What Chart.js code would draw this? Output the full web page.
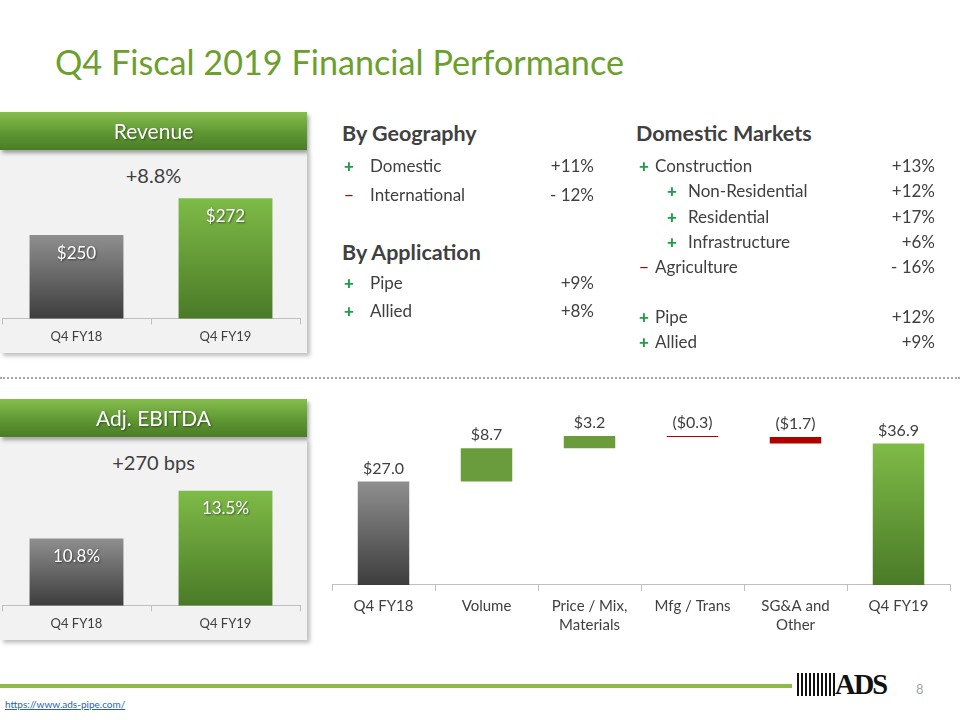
<!DOCTYPE html>
<html>
<head>
<meta charset="utf-8">
<script src="https://cdn.jsdelivr.net/npm/chart.js@4.4.1/dist/chart.umd.min.js"></script>
<style>
body{margin:0;width:960px;height:720px;position:relative;background:#fff;font-family:Lato,"Open Sans",sans-serif;color:#404040;overflow:hidden}
h1{position:absolute;left:55px;top:41px;margin:0;font-weight:400;font-size:34.2px;color:#6c9f2c;white-space:nowrap}
.hdr{position:absolute;left:0;width:307px;height:38px;line-height:38px;background:linear-gradient(#86be4e,#5f9833 55%,#4a7c26);color:#fff;font-size:21px;text-align:center;box-shadow:2px 3px 4px rgba(0,0,0,.35);text-shadow:1px 1px 2px rgba(0,0,0,.45);z-index:2}
.panel{position:absolute;left:0;width:307px;background:#f2f2f2;box-shadow:3px 3px 4px rgba(0,0,0,.25)}
.big{position:absolute;left:0;width:307px;text-align:center;font-size:20px;color:#404040}
canvas{position:absolute}
.h2{position:absolute;font-weight:700;font-size:21.5px;color:#404040;white-space:nowrap}
.row{position:absolute;font-size:17px;height:20px;line-height:20px;white-space:nowrap}
.row .v{position:absolute;text-align:right}
.plus{color:#1f9f48;font-weight:900}
.minus{color:#c00000}
#sep{position:absolute;left:0;top:377px;width:960px;border-top:2px dotted #a6a6a6}
#foot{position:absolute;left:0;top:684px;width:792px;height:4px;background:#8cbb4a}
#url{position:absolute;left:5px;top:698px;font-size:10px;color:#2a5fb5;text-decoration:underline}
#page{position:absolute;left:916px;top:681px;font-size:13px;color:#a6a6a6}
#logo{position:absolute;left:797px;top:670px;width:88px;height:28px}
#logo .st{position:absolute;left:0;top:3px;width:40px;height:23px;background:repeating-linear-gradient(90deg,#111 0 2px,#fff 2px 4px)}
#logo .tx{position:absolute;left:38px;top:-3px;font-family:"Liberation Serif",serif;font-weight:700;font-size:30px;letter-spacing:-2px;color:#111;transform:scaleX(0.95);transform-origin:left}
</style>
</head>
<body>
<h1>Q4 Fiscal 2019 Financial Performance</h1>

<div class="panel" style="top:150px;height:203px"></div>
<div class="hdr" style="top:112px">Revenue</div>
<div class="big" style="top:163px">+8.8%</div>
<canvas id="rev" width="307" height="200" style="left:0;top:150px"></canvas>

<div class="panel" style="top:438px;height:202px"></div>
<div class="hdr" style="top:399px">Adj. EBITDA</div>
<div class="big" style="top:450px">+270 bps</div>
<canvas id="ebitda" width="307" height="200" style="left:0;top:438px"></canvas>

<div id="tables"></div>
<div id="sep"></div>

<canvas id="bridge" width="630" height="250" style="left:330px;top:395px"></canvas>

<div id="foot"></div>
<div id="logo"><div class="st"></div><div class="tx">ADS</div></div>
<div id="page">8</div>
<div id="url">https://www.ads-pipe.com/</div>

<script>
// chart values
const revLabels = ['Q4 FY18', 'Q4 FY19'];
const revValues = [250, 272];
const ebitdaLabels = ['Q4 FY18', 'Q4 FY19'];
const ebitdaValues = [10.8, 13.5];
const bridgeLabels = ['Q4 FY18', 'Volume', ['Price / Mix,', 'Materials'], 'Mfg / Trans', ['SG&A and', 'Other'], 'Q4 FY19'];
const bridgeStart = 27.0;
const bridgeSteps = [8.7, 3.2, -0.3, -1.7];
const bridgeEnd = 36.9;

// growth tables
const geoNames = ['Domestic', 'International'];
const geoValues = ['+11%', '- 12%'];
const appNames = ['Pipe', 'Allied'];
const appValues = ['+9%', '+8%'];
const marketNames = ['Construction', 'Non-Residential', 'Residential', 'Infrastructure', 'Agriculture', 'Pipe', 'Allied'];
const marketValues = ['+13%', '+12%', '+17%', '+6%', '- 16%', '+12%', '+9%'];
const marketIndent = [0, 1, 1, 1, 0, 0, 0];

var tables = document.getElementById('tables');
function heading(text, x, y) {
	var d = document.createElement('div');
	d.className = 'h2'; d.textContent = text;
	d.style.left = x + 'px'; d.style.top = (y - 14) + 'px';
	tables.appendChild(d);
}
function row(name, value, signX, textX, valRight, y) {
	var neg = value.trim()[0] === '-';
	var d = document.createElement('div');
	d.className = 'row';
	d.style.left = '0px'; d.style.top = (y - 10) + 'px'; d.style.width = '960px';
	d.innerHTML = '<span class="' + (neg ? 'minus' : 'plus') + '" style="position:absolute;left:' + signX + 'px">' + (neg ? '\u2212' : '+') + '</span>' +
		'<span style="position:absolute;left:' + textX + 'px">' + name + '</span>' +
		'<span class="v" style="right:' + (960 - valRight) + 'px">' + value + '</span>';
	tables.appendChild(d);
}
heading('By Geography', 342, 134);
[166, 195].forEach((y, i) => row(geoNames[i], geoValues[i], 344, 370, 594, y));
heading('By Application', 342, 253);
[283, 311].forEach((y, i) => row(appNames[i], appValues[i], 344, 370, 594, y));
heading('Domestic Markets', 636, 134);
[166, 191, 217, 242, 267, 317, 342].forEach((y, i) => {
	var ind = marketIndent[i];
	row(marketNames[i], marketValues[i], ind ? 667 : 639, ind ? 688 : 655, 935, y);
});

// bar colours: vertical gradient from the bar top down to the axis
const grayTop = '#8f8f8f', grayBot = '#3d3d3d';
const greenTop = '#7ebb47', greenBot = '#4a7a27';
function fillFor(kinds) {
	return (c) => {
		var k = kinds[c.dataIndex];
		if (typeof k === 'string') return k;
		var ch = c.chart;
		if (!ch.chartArea) return k[1];
		var v = c.raw;
		var hi = Array.isArray(v) ? Math.max(v[0], v[1]) : v;
		var g = ch.ctx.createLinearGradient(0, ch.scales.y.getPixelForValue(hi), 0, ch.chartArea.bottom);
		g.addColorStop(0, k[0]); g.addColorStop(1, k[1]);
		return g;
	};
}

function makeLabels(fmt, font, color, offset, shadow) {
	return {
		id: 'valueLabels',
		afterDatasetsDraw(chart) {
			var ctx = chart.ctx;
			var meta = chart.getDatasetMeta(0);
			ctx.save();
			ctx.font = font; ctx.fillStyle = color;
			ctx.textAlign = 'center'; ctx.textBaseline = 'middle';
			if (shadow) { ctx.shadowColor = 'rgba(0,0,0,0.5)'; ctx.shadowOffsetX = 1; ctx.shadowOffsetY = 1; ctx.shadowBlur = 2; }
			meta.data.forEach((bar, i) => {
				var top = Math.min(bar.y, bar.base);
				ctx.fillText(fmt(i), bar.x, top + offset);
			});
			ctx.restore();
		}
	};
}

function xAxis(size, lh, pad) {
	return {
		grid: { display: true, drawOnChartArea: false, tickLength: 6, color: '#bfbfbf', offset: true },
		border: { color: '#bfbfbf' },
		ticks: { color: '#404040', padding: pad, font: { family: 'Lato', size: size, lineHeight: lh }, maxRotation: 0, autoSkip: false }
	};
}

function pairChart(id, labels, values, min, max, fmt, pad) {
	new Chart(document.getElementById(id), {
		type: 'bar',
		data: {
			labels: labels,
			datasets: [{
				data: values,
				backgroundColor: fillFor([[grayTop, grayBot], [greenTop, greenBot]]),
				barPercentage: 0.63,
				categoryPercentage: 1
			}]
		},
		options: {
			responsive: false,
			animation: false,
			layout: { padding: pad },
			plugins: { legend: { display: false }, tooltip: { enabled: false } },
			scales: {
				x: xAxis(13, 1.2, 5),
				y: { display: false, min: min, max: max }
			}
		},
		plugins: [makeLabels(fmt, '17px Lato', '#ffffff', 18, true)]
	});
}

pairChart('rev', revLabels, revValues, 200, 301, (i) => '$' + revValues[i], { left: 2, right: 7, top: 0, bottom: 0 });
pairChart('ebitda', ebitdaLabels, ebitdaValues, 7, 16.5, (i) => ebitdaValues[i].toFixed(1) + '%', { left: 2, right: 7, top: 0, bottom: 1 });

// waterfall ranges built from start, steps and end
var ranges = [[0, bridgeStart]];
var run = bridgeStart;
bridgeSteps.forEach((s) => { ranges.push([run, run + s]); run += s; });
ranges.push([0, bridgeEnd]);
var bridgeAmounts = [bridgeStart].concat(bridgeSteps, [bridgeEnd]);

var bridgeKinds = ranges.map((r, i) => {
	if (i === 0) return [grayTop, grayBot];
	if (i === ranges.length - 1) return [greenTop, greenBot];
	return bridgeAmounts[i] >= 0 ? '#6b9c3b' : '#b00000';
});

new Chart(document.getElementById('bridge'), {
	type: 'bar',
	data: {
		labels: bridgeLabels,
		datasets: [{
			data: ranges,
			backgroundColor: fillFor(bridgeKinds),
			barPercentage: 0.5,
			categoryPercentage: 1
		}]
	},
	options: {
		responsive: false,
		animation: false,
		layout: { padding: { left: 2, right: 10, top: 0, bottom: 4 } },
		plugins: { legend: { display: false }, tooltip: { enabled: false } },
		scales: {
			x: xAxis(15, 1.27, 6),
			y: { display: false, min: 0, max: 49.6 }
		}
	},
	plugins: [makeLabels((i) => {
		var v = bridgeAmounts[i];
		return v < 0 ? '($' + Math.abs(v).toFixed(1) + ')' : '$' + v.toFixed(1);
	}, '16px Lato', '#404040', -13, false)]
});
</script>
</body>
</html>
